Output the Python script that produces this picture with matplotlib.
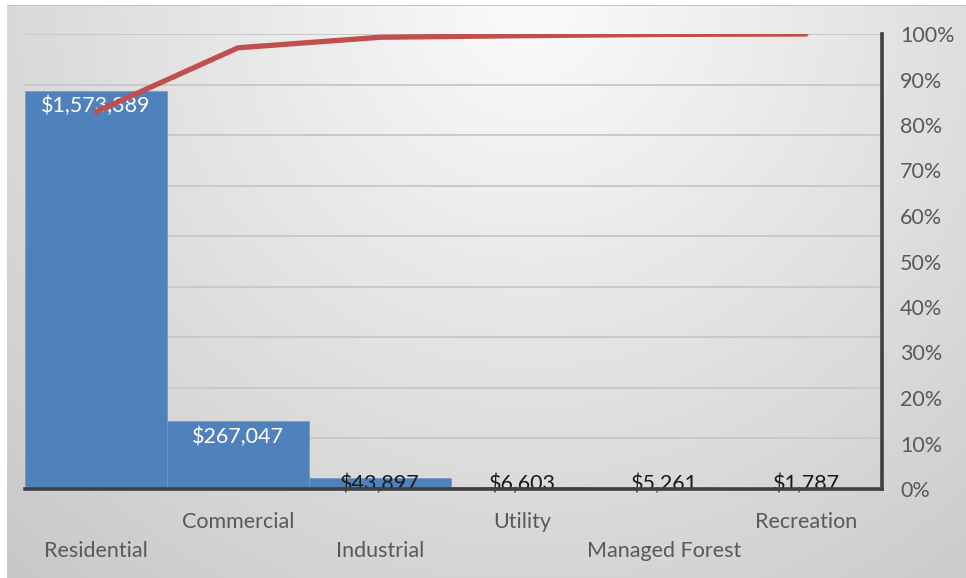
import numpy as np
import matplotlib
matplotlib.use("Agg")
import matplotlib.pyplot as plt

categories = ["Residential", "Commercial", "Industrial", "Utility", "Managed Forest", "Recreation"]
values = [1573389, 267047, 43897, 6603, 5261, 1787]
pct_ticks = [0, 0.1, 0.2, 0.3, 0.4, 0.5, 0.6, 0.7, 0.8, 0.9, 1.0]
pct_labels = ["0%", "10%", "20%", "30%", "40%", "50%", "60%", "70%", "80%", "90%", "100%"]

plt.rcParams['font.family'] = ['Lato', 'DejaVu Sans']
FS = 15.5

W, H = 966, 578
fig = plt.figure(figsize=(W / 100, H / 100), dpi=100)

# background gradient
yy, xx = np.mgrid[0:H, 0:W]
xf = xx / W
yf = yy / H
r = np.sqrt(((xf - 0.55) / 0.6) ** 2 + (yf / 1.0) ** 2)
val = np.clip(0.985 - 0.15 * r, 0, 1)
img = np.dstack([val, val, val])
img[:5, :, :] = 1.0
img[:, :7, :] = 1.0
img[5, 7:, :] = 0.78
bg = fig.add_axes([0, 0, 1, 1], zorder=-10)
bg.imshow(img, aspect='auto', extent=(0, 1, 0, 1), interpolation='bilinear')
bg.axis('off')

left_px, right_px, bot_px, top_px = 25, 882, 489, 34
ax = fig.add_axes([left_px / W, 1 - bot_px / H, (right_px - left_px) / W, (bot_px - top_px) / H])
ax.patch.set_visible(False)

x = np.arange(len(categories))
ymax = 1800000
ax.bar(x, values, width=1.0, color='#4f81bd', edgecolor='#6f97c9', linewidth=0.5, zorder=1)
ax.set_xlim(-0.5, 5.5 + 5 / 142)
ax.set_ylim(0, ymax)
ax.set_yticks(np.arange(0, ymax + 1, 200000))
ax.yaxis.grid(True, color='#c9c9c9', linewidth=1.4)
ax.set_axisbelow(True)
ax.set_xticks([])
for s in ['left', 'top', 'right']:
    ax.spines[s].set_visible(False)
ax.spines['bottom'].set_color('#404040')
ax.spines['bottom'].set_linewidth(2.6)
ax.spines['bottom'].set_zorder(5)

# data labels
for i, v in enumerate(values):
    txt = "${:,}".format(v)
    if v > 0.05 * max(values):
        ax.annotate(txt, (i, v), xytext=(0, -15), textcoords='offset pixels',
                    ha='center', va='center', color='white', fontsize=FS, zorder=3)
    else:
        ax.annotate(txt, (i, 0), xytext=(0, -1), textcoords='offset pixels',
                    ha='center', va='baseline', color='#1a1a1a', fontsize=FS, zorder=2)

# category labels (staggered)
tr = ax.get_xaxis_transform()
for i, c in enumerate(categories):
    yoff = -0.136 if i % 2 == 0 else -0.0725
    ax.text(i, yoff, c, transform=tr, ha='center', va='center', color='#595959', fontsize=FS)

# cumulative percentage line
total = sum(values)
cum = np.cumsum(values) / total
ax2 = ax.twinx()
ax2.patch.set_visible(False)
ax2.plot(x, cum, color='#c0504d', linewidth=3.8, solid_capstyle='round', solid_joinstyle='round')
ax2.set_ylim(0, 1)
ax2.set_yticks(pct_ticks)
ax2.set_yticklabels(pct_labels)
ax2.tick_params(axis='y', left=False, right=False, length=0, pad=13, labelsize=FS, labelcolor='#595959')
for s in ['left', 'top', 'bottom']:
    ax2.spines[s].set_visible(False)
ax2.spines['right'].set_color('#404040')
ax2.spines['right'].set_linewidth(2.6)

ax.tick_params(axis='y', left=False, right=False, labelleft=False, labelright=False, length=0)

fig.savefig("out.png", dpi=100)
